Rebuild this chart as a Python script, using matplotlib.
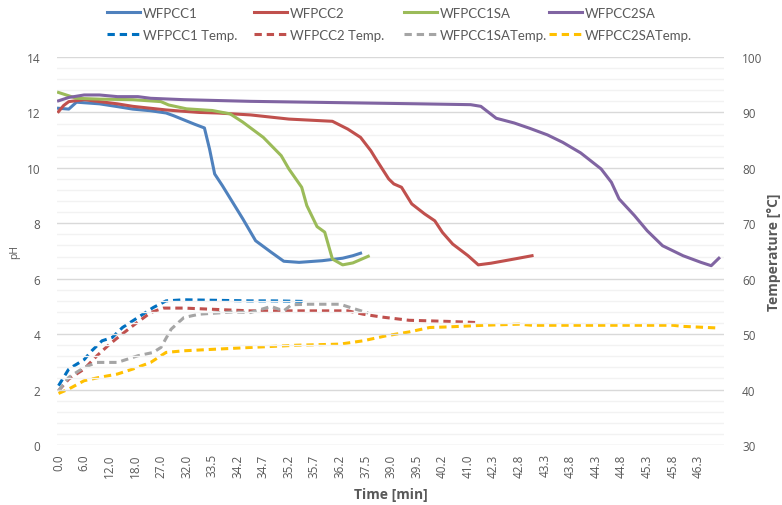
import matplotlib
matplotlib.use("Agg")
import matplotlib.pyplot as plt
from matplotlib.ticker import MultipleLocator

# ---- data (category index: 10 categories per tick label) ----
tick_labels = ["0.0", "6.0", "12.0", "18.0", "27.0", "32.0", "33.5", "34.2", "34.7",
               "35.2", "35.7", "36.2", "37.5", "39.0", "39.5", "40.2", "41.0", "42.3",
               "42.8", "43.3", "43.8", "44.3", "44.8", "45.3", "45.8", "46.3"]

wfpcc1_x = [0, 4, 7, 16, 23, 29, 36, 42, 45, 49, 53, 57, 59, 61, 64, 68, 72, 77, 83, 88, 94, 103, 111, 115, 118]
wfpcc1_ph = [12.15, 12.12, 12.37, 12.31, 12.21, 12.12, 12.06, 11.98, 11.88, 11.73, 11.58, 11.44, 10.68,
             9.78, 9.36, 8.76, 8.16, 7.37, 6.96, 6.63, 6.59, 6.65, 6.74, 6.83, 6.92]

wfpcc2_x = [0, 2, 4, 10, 16, 23, 29, 36, 42, 49, 55, 62, 75, 90, 107, 113, 118, 122, 124, 129, 131,
            134, 138, 143, 147, 150, 154, 160, 164, 169, 178, 185]
wfpcc2_ph = [12.03, 12.25, 12.39, 12.46, 12.39, 12.31, 12.22, 12.15, 12.09, 12.04, 12.0, 11.98, 11.91,
             11.76, 11.68, 11.4, 11.1, 10.62, 10.32, 9.6, 9.42, 9.3, 8.7, 8.34, 8.09, 7.67, 7.25,
             6.83, 6.5, 6.56, 6.71, 6.83]

wfpcc1sa_x = [0, 7, 16, 29, 40, 43, 50, 55, 60, 67, 72, 80, 87, 90, 95, 97, 101, 104, 107, 111, 115, 121]
wfpcc1sa_ph = [12.72, 12.51, 12.48, 12.46, 12.39, 12.27, 12.13, 12.1, 12.07, 11.95, 11.65, 11.1, 10.44,
               9.96, 9.3, 8.64, 7.88, 7.68, 6.71, 6.5, 6.57, 6.81]

wfpcc2sa_x = [0, 4, 10, 16, 23, 31, 36, 49, 75, 141, 161, 165, 171, 178, 184, 191, 197, 204, 212,
              216, 219, 225, 230, 236, 244, 251, 255, 258]
wfpcc2sa_ph = [12.42, 12.54, 12.63, 12.63, 12.57, 12.57, 12.51, 12.46, 12.4, 12.31, 12.28, 12.22, 11.79,
               11.62, 11.43, 11.19, 10.92, 10.54, 9.96, 9.48, 8.88, 8.28, 7.73, 7.19, 6.83, 6.59,
               6.47, 6.74]

t1_x = [0, 4, 10, 13, 17, 21, 25, 32, 37, 42, 49, 75, 84, 96]
t1_temp = [40.7, 43.7, 45.4, 47.0, 48.8, 49.4, 51.2, 53.3, 54.8, 56.0, 56.2, 56.0, 56.0, 55.9]

t2_x = [0, 4, 10, 15, 20, 24, 29, 36, 41, 49, 75, 106, 113, 119, 126, 137, 152, 163]
t2_temp = [39.8, 41.9, 43.7, 46.1, 48.2, 49.7, 51.5, 53.9, 54.7, 54.7, 54.2, 54.2, 54.2, 53.6, 53.1,
           52.5, 52.3, 52.1]

t1sa_x = [0, 4, 10, 15, 23, 31, 37, 40, 44, 49, 55, 68, 75, 83, 88, 91, 98, 110, 114, 121]
t1sa_temp = [39.8, 42.2, 44.0, 44.9, 44.9, 46.1, 46.7, 47.6, 50.9, 53.0, 53.6, 54.0, 53.9, 55.0, 54.2,
             55.3, 55.4, 55.4, 54.8, 53.8]

t2sa_x = [0, 4, 10, 16, 23, 29, 36, 42, 49, 62, 75, 93, 110, 119, 128, 137, 145, 152, 166, 180, 185,
          240, 244, 258]
t2sa_temp = [39.3, 40.1, 41.6, 42.2, 42.8, 43.7, 44.9, 46.7, 47.0, 47.3, 47.6, 48.0, 48.2, 48.8, 49.7,
             50.4, 51.2, 51.3, 51.6, 51.8, 51.6, 51.6, 51.4, 51.1]

# ---- styling ----
plt.rcParams['font.family'] = ['Open Sans', 'DejaVu Sans']
TXT = "#595959"

fig = plt.figure(figsize=(7.82, 5.06), dpi=100)
ax = fig.add_axes([57/782, 1-446/506, (724-57)/782, (446-58)/506])
ax2 = ax.twinx()

lw = 2.2
ph_lines = [
    ax.plot(wfpcc1_x, wfpcc1_ph, color="#4F81BD", lw=lw, label="WFPCC1")[0],
    ax.plot(wfpcc2_x, wfpcc2_ph, color="#C0504D", lw=lw, label="WFPCC2")[0],
    ax.plot(wfpcc1sa_x, wfpcc1sa_ph, color="#9BBB59", lw=lw, label="WFPCC1SA")[0],
    ax.plot(wfpcc2sa_x, wfpcc2sa_ph, color="#8064A2", lw=lw, label="WFPCC2SA")[0],
]
dash = (0, (2.4, 1.6))
t_lines = [
    ax2.plot(t1_x, t1_temp, color="#0070C0", lw=lw, ls=dash, label="WFPCC1 Temp.")[0],
    ax2.plot(t2_x, t2_temp, color="#C0504D", lw=lw, ls=dash, label="WFPCC2 Temp.")[0],
    ax2.plot(t1sa_x, t1sa_temp, color="#A5A5A5", lw=lw, ls=dash, label="WFPCC1SATemp.")[0],
    ax2.plot(t2sa_x, t2sa_temp, color="#FFC000", lw=lw, ls=dash, label="WFPCC2SATemp.")[0],
]

ax.set_xlim(-0.6, 260)
ax.set_ylim(0, 14)
ax2.set_ylim(30, 100)
ax.yaxis.set_major_locator(MultipleLocator(2))
ax.yaxis.set_minor_locator(MultipleLocator(0.4))
ax2.yaxis.set_major_locator(MultipleLocator(10))

ax.set_xticks(range(0, 10*len(tick_labels), 10))
ax.set_xticklabels(tick_labels, rotation=90, fontsize=8.5, color=TXT)

ax.grid(True, axis='y', which='major', color="#D9D9D9", lw=1.0)
ax.grid(True, axis='y', which='minor', color="#F2F2F2", lw=1.0)
ax.set_axisbelow(True)
for a in (ax, ax2):
    for s in a.spines.values():
        s.set_visible(False)
    a.tick_params(axis='both', which='both', length=0, labelsize=8.5, colors=TXT)
ax.tick_params(axis='x', pad=6)
ax.tick_params(axis='y', pad=12)
ax2.tick_params(axis='y', pad=13)

ax.set_zorder(ax2.get_zorder() + 1)
ax.patch.set_visible(False)

ax.set_ylabel("pH", fontsize=7.5, color=TXT)
ax.yaxis.set_label_coords((20 - 57) / 667, 0.5)
ax2.set_ylabel("Temperature [°C]", fontsize=10, color=TXT, fontweight='bold')
ax2.yaxis.set_label_coords((767 - 57) / 667, 0.5)
ax.set_xlabel("Time [min]", fontsize=10, color=TXT, fontweight='bold', labelpad=7)

# legend: one column per series pair, placed at the reference column positions
col_left_px = [107, 254, 404, 549]
for p, t, xpx in zip(ph_lines, t_lines, col_left_px):
    leg = fig.legend(handles=[p, t], loc='upper left', bbox_to_anchor=(xpx/782, 1 - 8/506),
                     frameon=False, handlelength=2.5, handletextpad=0.25,
                     labelspacing=0.75, borderaxespad=0.0, borderpad=0.0,
                     prop={'family': ['Lato', 'DejaVu Sans'], 'size': 9.5})
    for txt in leg.get_texts():
        txt.set_color(TXT)

fig.savefig("out.png", dpi=100)
